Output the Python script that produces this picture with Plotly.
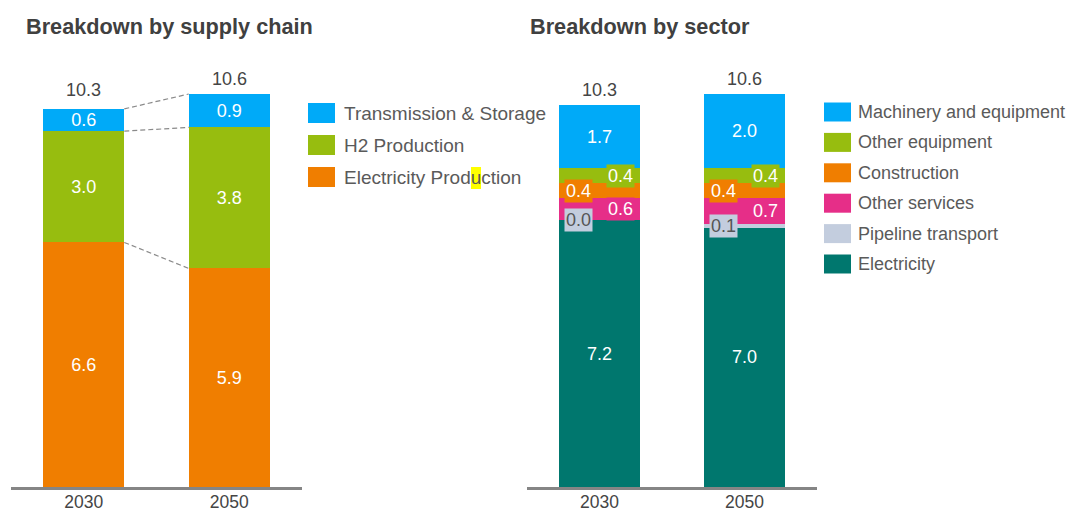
import plotly.graph_objects as go

# ---------------- data ----------------
years = ["2030", "2050"]

supply_names = ["Electricity Production", "H2 Production", "Transmission & Storage"]
supply_values = {
    "Electricity Production": [6.6, 5.9],
    "H2 Production": [3.0, 3.8],
    "Transmission & Storage": [0.6, 0.9],
}
supply_totals = [10.3, 10.6]

sector_names = ["Electricity", "Pipeline transport", "Other services",
                "Construction", "Other equipment", "Machinery and equipment"]
sector_values = {
    "Electricity": [7.2, 7.0],
    "Pipeline transport": [0.0, 0.1],
    "Other services": [0.6, 0.7],
    "Construction": [0.4, 0.4],
    "Other equipment": [0.4, 0.4],
    "Machinery and equipment": [1.7, 2.0],
}
sector_totals = [10.3, 10.6]

# ---------------- styles ----------------
W, H = 1068, 513
FONT = "Liberation Sans, Arial, sans-serif"
TXT = "#454545"
LEG_TXT = "#5a5a5a"
supply_colors = {
    "Electricity Production": "#F07E00",
    "H2 Production": "#97BD0F",
    "Transmission & Storage": "#00AAF8",
}
sector_colors = {
    "Electricity": "#00776E",
    "Pipeline transport": "#C3CDDE",
    "Other services": "#E62E88",
    "Construction": "#F07E00",
    "Other equipment": "#97BD0F",
    "Machinery and equipment": "#00AAF8",
}
# small segments labelled in offset boxes (side: -1 left, +1 right)
boxed = {"Other equipment": 1, "Construction": -1, "Other services": 1, "Pipeline transport": -1}
BAR_W = 0.557
xs = list(range(len(years)))


def xp(px):
    return px / W


def yp(py):
    return 1 - py / H


fig = go.Figure()

# ---- left chart: supply chain ----
for name in supply_names:
    fig.add_trace(go.Bar(
        x=xs, y=supply_values[name], name=name, width=BAR_W,
        marker=dict(color=supply_colors[name], line=dict(width=0)),
        texttemplate="%{y:.1f}", textposition="inside", insidetextanchor="middle",
        textfont=dict(color="white", size=18, family=FONT),
        xaxis="x", yaxis="y", showlegend=False, hoverinfo="skip",
    ))

# dashed connectors between segment tops
cum = [0.0, 0.0]
for name in supply_names:
    cum = [c + v for c, v in zip(cum, supply_values[name])]
    fig.add_trace(go.Scatter(
        x=[xs[0] + BAR_W / 2, xs[1] - BAR_W / 2], y=[cum[0], cum[1]],
        mode="lines", line=dict(color="#8a8a8a", width=1.2, dash="5px,3px"),
        xaxis="x", yaxis="y", showlegend=False, hoverinfo="skip",
    ))

# ---- right chart: sector ----
for name in sector_names:
    show_text = name not in boxed
    fig.add_trace(go.Bar(
        x=xs, y=sector_values[name], name=name, width=BAR_W,
        marker=dict(color=sector_colors[name], line=dict(width=0)),
        texttemplate="%{y:.1f}" if show_text else None,
        textposition="inside" if show_text else "none",
        insidetextanchor="middle",
        textfont=dict(color="white", size=18, family=FONT),
        xaxis="x2", yaxis="y2", showlegend=False, hoverinfo="skip",
    ))

annotations = []
cum = [0.0, 0.0]
for name in sector_names:
    vals = sector_values[name]
    if name in boxed:
        for i, v in enumerate(vals):
            annotations.append(dict(
                x=xs[i], y=cum[i] + v / 2, xref="x2", yref="y2",
                xshift=21 * boxed[name], text=f"{v:.1f}", showarrow=False,
                bgcolor=sector_colors[name], borderpad=1,
                font=dict(size=18, family=FONT,
                          color="#555555" if name == "Pipeline transport" else "white"),
            ))
    cum = [c + v for c, v in zip(cum, vals)]

# totals
for xa, ya, totals in (("x", "y", supply_totals), ("x2", "y2", sector_totals)):
    for i, t in enumerate(totals):
        annotations.append(dict(
            x=xs[i], y=t, xref=xa, yref=ya, yanchor="bottom", yshift=3,
            text=f"{t:.1f}", showarrow=False,
            font=dict(size=18, family=FONT, color=TXT),
        ))

# titles
annotations.append(dict(x=xp(24), y=yp(27), xref="paper", yref="paper", xanchor="left",
                        yanchor="middle", text="<b>Breakdown by supply chain</b>", showarrow=False,
                        font=dict(size=21.7, family=FONT, color="#404040")))
annotations.append(dict(x=xp(528), y=yp(27), xref="paper", yref="paper", xanchor="left",
                        yanchor="middle", text="<b>Breakdown by sector</b>", showarrow=False,
                        font=dict(size=21.7, family=FONT, color="#404040")))

# manual legends
shapes = []
left_leg = list(reversed(supply_names))
for k, name in enumerate(left_leg):
    cy = 113 + 32 * k
    shapes.append(dict(type="rect", xref="paper", yref="paper",
                       x0=xp(308), x1=xp(335), y0=yp(cy - 10), y1=yp(cy + 10),
                       fillcolor=supply_colors[name], line=dict(width=0)))
    annotations.append(dict(x=xp(342), y=yp(cy), xref="paper", yref="paper", xanchor="left",
                            yanchor="middle", text=name, showarrow=False,
                            font=dict(size=19, family=FONT, color=LEG_TXT)))
# text-selection highlight seen in the reference
shapes.append(dict(type="rect", xref="paper", yref="paper", x0=xp(471), x1=xp(481),
                   y0=yp(189), y1=yp(167), fillcolor="#FFFF00", line=dict(width=0), layer="below"))

right_leg = list(reversed(sector_names))
for k, name in enumerate(right_leg):
    cy = 112 + 30.4 * k
    shapes.append(dict(type="rect", xref="paper", yref="paper",
                       x0=xp(824), x1=xp(851), y0=yp(cy - 9.5), y1=yp(cy + 9.5),
                       fillcolor=sector_colors[name], line=dict(width=0)))
    annotations.append(dict(x=xp(856), y=yp(cy), xref="paper", yref="paper", xanchor="left",
                            yanchor="middle", text=name, showarrow=False,
                            font=dict(size=18, family=FONT, color=LEG_TXT)))

ydom = [yp(487.3), yp(487.3 - 11.5 * 37.1)]
xaxis_common = dict(range=[-0.5, 1.5], tickmode="array", tickvals=xs, ticktext=years,
                    showline=True, linecolor="#858585", linewidth=3, ticks="",
                    showgrid=False, zeroline=False, fixedrange=True, automargin=False,
                    tickfont=dict(size=17.5, family=FONT, color=TXT), ticklabelstandoff=-3)
yaxis_common = dict(range=[0, 11.5], visible=False, showgrid=False, zeroline=False,
                    automargin=False, fixedrange=True)

fig.update_layout(
    width=W, height=H, margin=dict(l=0, r=0, t=0, b=0, pad=0, autoexpand=False),
    paper_bgcolor="white", plot_bgcolor="white",
    barmode="stack", showlegend=False,
    uniformtext=dict(minsize=18, mode="show"),
    xaxis=dict(domain=[xp(11), xp(302)], anchor="y", **xaxis_common),
    yaxis=dict(domain=ydom, anchor="x", **yaxis_common),
    xaxis2=dict(domain=[xp(527), xp(817)], anchor="y2", **xaxis_common),
    yaxis2=dict(domain=ydom, anchor="x2", **yaxis_common),
    annotations=annotations, shapes=shapes,
    font=dict(family=FONT),
)

fig.write_html(
    "out.html",
    config={"displayModeBar": False, "staticPlot": True},
    post_script="document.body.style.margin='0px';document.body.style.overflow='hidden';"
                "document.documentElement.style.overflow='hidden';",
)
